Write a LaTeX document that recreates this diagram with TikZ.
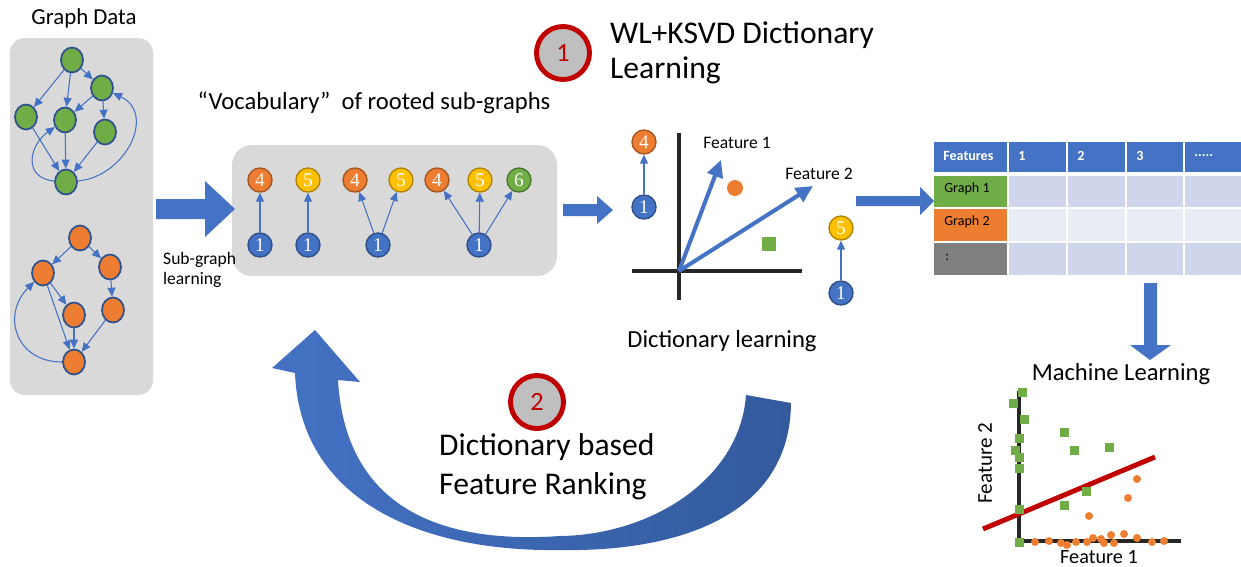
\documentclass[tikz,border=0pt]{standalone}
\usepackage{fontspec}
\setmainfont{Carlito}
\newfontfamily\numfont{Liberation Serif}
\usetikzlibrary{shapes.geometric,arrows.meta}

\definecolor{panelgray}{HTML}{D9D9D9}
\definecolor{ngreen}{HTML}{70AD47}
\definecolor{norange}{HTML}{ED7D31}
\definecolor{nyellow}{HTML}{FFC000}
\definecolor{nblue}{HTML}{4472C4}
\definecolor{nline}{HTML}{2F528F}
\definecolor{bluedark}{HTML}{335A9C}
\definecolor{ringred}{HTML}{C00000}
\definecolor{ringfill}{HTML}{BFBFBF}
\definecolor{axisgray}{HTML}{262626}
\definecolor{tabdark}{HTML}{CFD5EA}
\definecolor{tablight}{HTML}{E9EBF5}
\definecolor{tabgray}{HTML}{7F7F7F}

\tikzset{
  gnode/.style={ellipse,draw=nline,line width=1pt,fill=#1,
    minimum width=0.44cm,minimum height=0.5cm,inner sep=0pt},
  gedge/.style={draw=nblue,line width=0.6pt,-{Triangle[length=1.8mm,width=1.6mm]}},
  vnode/.style={circle,draw=#1!70!black,fill=#1,line width=0.8pt,
    minimum size=0.48cm,inner sep=0pt,text=white,
    font=\numfont\fontsize{11}{11}\selectfont},
  ring/.style={circle,draw=ringred,line width=2.8pt,fill=ringfill,
    minimum size=1.06cm,text=ringred,font=\fontsize{15}{15}\selectfont},
  blockarrow/.style={fill=nblue},
  featarrow/.style={draw=nblue,line width=2.3pt,
    -{Triangle[length=3.4mm,width=3.2mm]}},
  axisline/.style={draw=axisgray,line width=2.6pt},
  tabtext/.style={anchor=west,inner sep=0pt,font=\fontsize{8}{8}\selectfont}
}

\begin{document}
\begin{tikzpicture}[x=0.02cm,y=-0.02cm]
\useasboundingbox (0,0) rectangle (1241,566);

% graph data
\node[font=\fontsize{13}{13}\selectfont] (gdata) at (84,18) {Graph Data};
\fill[panelgray,rounded corners=3mm] (10,38) rectangle (153,395);

\node[gnode=ngreen] (gt) at (72,60) {};
\node[gnode=ngreen] (gr) at (102,88) {};
\node[gnode=ngreen] (gl) at (26,117) {};
\node[gnode=ngreen] (gm) at (65,120) {};
\node[gnode=ngreen] (grl) at (105,132) {};
\node[gnode=ngreen] (gb) at (66,182) {};
\draw[gedge] (gt) -- (gl);
\draw[gedge] (gt) -- (gm);
\draw[gedge] (gt) -- (gr);
\draw[gedge] (gr) -- (gm);
\draw[gedge] (gr) -- (grl);
\draw[gedge] (gl) -- (gb);
\draw[gedge] (gm) -- (gb);
\draw[gedge] (grl) -- (gb);
\draw[gedge] (gb) to[out=175,in=215,looseness=1.5] (gm);
\draw[gedge] (gb) to[out=5,in=-25,looseness=1.3] (gr);

\node[gnode=norange] (ot) at (80,238) {};
\node[gnode=norange] (or) at (110,267) {};
\node[gnode=norange] (ol) at (43,273) {};
\node[gnode=norange] (om) at (74,315) {};
\node[gnode=norange] (orl) at (113,310) {};
\node[gnode=norange] (ob) at (74,362) {};
\draw[gedge] (ot) -- (ol);
\draw[gedge] (ot) -- (or);
\draw[gedge] (or) -- (orl);
\draw[gedge] (ol) -- (om);
\draw[gedge] (ol) -- (ob);
\draw[gedge] (om) -- (ob);
\draw[gedge] (orl) -- (ob);
\draw[gedge] (ob) to[out=180,in=225,looseness=1.4] (ol);

% vocabulary
\node[font=\fontsize{14}{14}\selectfont] (vocab) at (374,103)
  {“Vocabulary”\ \ of rooted sub-graphs};
\fill[panelgray,rounded corners=4mm] (232,145) rectangle (557,276);

% sub-graph learning
\fill[blockarrow] (156,199) -- (205,199) -- (205,181) -- (235,209)
  -- (205,237) -- (205,219) -- (156,219) -- cycle;
\node[anchor=west,align=left,font=\fontsize{10}{11.5}\selectfont] (sglabel)
  at (157,270) {Sub-graph\\learning};

\node[vnode=norange] (va4) at (260,180) {4};
\node[vnode=nblue] (va1) at (260,245) {1};
\node[vnode=nyellow] (vb5) at (308,180) {5};
\node[vnode=nblue] (vb1) at (308,245) {1};
\node[vnode=norange] (vc4) at (355,180) {4};
\node[vnode=nyellow] (vc5) at (401,180) {5};
\node[vnode=nblue] (vc1) at (378,245) {1};
\node[vnode=norange] (vd4) at (437,180) {4};
\node[vnode=nyellow] (vd5) at (480,180) {5};
\node[vnode=ngreen] (vd6) at (519,180) {6};
\node[vnode=nblue] (vd1) at (479,245) {1};
\draw[gedge] (va1) -- (va4);
\draw[gedge] (vb1) -- (vb5);
\draw[gedge] (vc1) -- (vc4);
\draw[gedge] (vc1) -- (vc5);
\draw[gedge] (vd1) -- (vd4);
\draw[gedge] (vd1) -- (vd5);
\draw[gedge] (vd1) -- (vd6);

\fill[blockarrow] (563,204) -- (597,204) -- (597,196) -- (613,210)
  -- (597,224) -- (597,216) -- (563,216) -- cycle;

% step 1
\node[ring] (ring1) at (563,53) {1};
\node[anchor=west,align=left,font=\fontsize{18}{20}\selectfont] (step1)
  at (604,53) {WL+KSVD Dictionary\\Learning};

% dictionary learning
\coordinate (orig) at (679,271);
\coordinate (f1tip) at (721,160);
\coordinate (f2tip) at (813,186);
\draw[axisline] (679,133) -- (679,300);
\draw[axisline] (632,271) -- (802,271);
\draw[featarrow] (orig) -- (f1tip);
\draw[featarrow] (orig) -- (f2tip);
\node[font=\fontsize{10}{10}\selectfont] (f1lab) at (737,143) {Feature 1};
\node[font=\fontsize{10}{10}\selectfont] (f2lab) at (819,174) {Feature 2};
\node[circle,fill=norange,minimum size=0.32cm,inner sep=0pt] (dot) at (735,188) {};
\node[fill=ngreen,minimum size=0.28cm,inner sep=0pt] (sq) at (769,244) {};
\node[vnode=norange] (da4) at (644,142) {4};
\node[vnode=nblue] (da1) at (644,207) {1};
\node[vnode=nyellow] (db5) at (841,228) {5};
\node[vnode=nblue] (db1) at (841,293) {1};
\draw[gedge] (da1) -- (da4);
\draw[gedge] (db1) -- (db5);
\node[font=\fontsize{14}{14}\selectfont] (dlabel) at (722,341) {Dictionary learning};

\fill[blockarrow] (856,196) -- (920,196) -- (920,187) -- (934,201)
  -- (920,215) -- (920,206) -- (856,206) -- cycle;

% feature table
\foreach \xa/\xb in {934/1007,1009/1066,1068/1125,1127/1183,1185/1241}
  \fill[nblue] (\xa,142) rectangle (\xb,172);
\foreach \xa/\xb in {1009/1066,1068/1125,1127/1183,1185/1241} {
  \fill[tabdark] (\xa,176) rectangle (\xb,207);
  \fill[tablight] (\xa,209) rectangle (\xb,241);
  \fill[tabdark] (\xa,243) rectangle (\xb,275);
}
\fill[ngreen] (934,176) rectangle (1007,207);
\fill[norange] (934,209) rectangle (1007,241);
\fill[tabgray] (934,243) rectangle (1007,275);
\node[tabtext,text=white,font=\bfseries\fontsize{8}{8}\selectfont] (hfeat) at (943,156) {Features};
\node[tabtext,text=white,font=\bfseries\fontsize{8}{8}\selectfont] (h1) at (1018,156) {1};
\node[tabtext,text=white,font=\bfseries\fontsize{8}{8}\selectfont] (h2) at (1077,156) {2};
\node[tabtext,text=white,font=\bfseries\fontsize{8}{8}\selectfont] (h3) at (1136,156) {3};
\node[tabtext,text=white,font=\bfseries\fontsize{8}{8}\selectfont] (h4) at (1194,156) {.....};
\node[tabtext] (rg1) at (944,189) {Graph 1};
\node[tabtext] (rg2) at (944,222) {Graph 2};
\node[tabtext] (rg3) at (945,257) {:};

\fill[blockarrow] (1144,283) -- (1157,283) -- (1157,345) -- (1171,345)
  -- (1150,360) -- (1130,345) -- (1144,345) -- cycle;

% machine learning
\node[font=\fontsize{14}{14}\selectfont] (mlabel) at (1121,374) {Machine Learning};
\draw[axisline,line width=2.3pt] (1019,391) -- (1019,543);
\draw[axisline,line width=2.3pt] (1018,541) -- (1181,541);
\draw[ringred,line width=2.8pt] (983,529) -- (1155,457);
\foreach \p in {(1022,392),(1013,403),(1024,419),(1019,438),(1015,450),
  (1019,457),(1019,468),(1064,432),(1074,450),(1109,447),(1086,491),
  (1064,505),(1019,509),(1019,542)}
  \fill[ngreen] \p +(-4.5,-4.5) rectangle +(4.5,4.5);
\foreach \p in {(1137,479),(1128,498),(1089,516),(1035,542),(1049,541),
  (1061,543),(1067,545),(1076,542),(1087,542),(1093,538),(1101,539),
  (1104,543),(1111,535),(1114,543),(1124,534),(1137,538),(1152,542),(1164,541)}
  \fill[norange] \p circle[radius=0.08cm];
\node[rotate=90,font=\fontsize{12}{12}\selectfont] (yfeat) at (985,463) {Feature 2};
\node[inner sep=0pt,font=\fontsize{11.5}{11.5}\selectfont] (xfeat) at (1099,557) {Feature 1};

% step 2, feedback arrow
\shade[left color=nblue,right color=bluedark]
  (791,403) .. controls (790,520) and (670,552) .. (560,550)
  .. controls (420,552) and (300,500) .. (295,373)
  -- (272,368) -- (315,330) -- (360,382) -- (338,380)
  .. controls (345,500) and (430,545) .. (560,536)
  .. controls (650,535) and (740,480) .. (746,395) -- cycle;
\node[ring] (ring2) at (537,402) {2};
\node[anchor=west,align=left,font=\fontsize{18}{22}\selectfont] (step2)
  at (433,467) {Dictionary based\\Feature Ranking};
\end{tikzpicture}
\end{document}
